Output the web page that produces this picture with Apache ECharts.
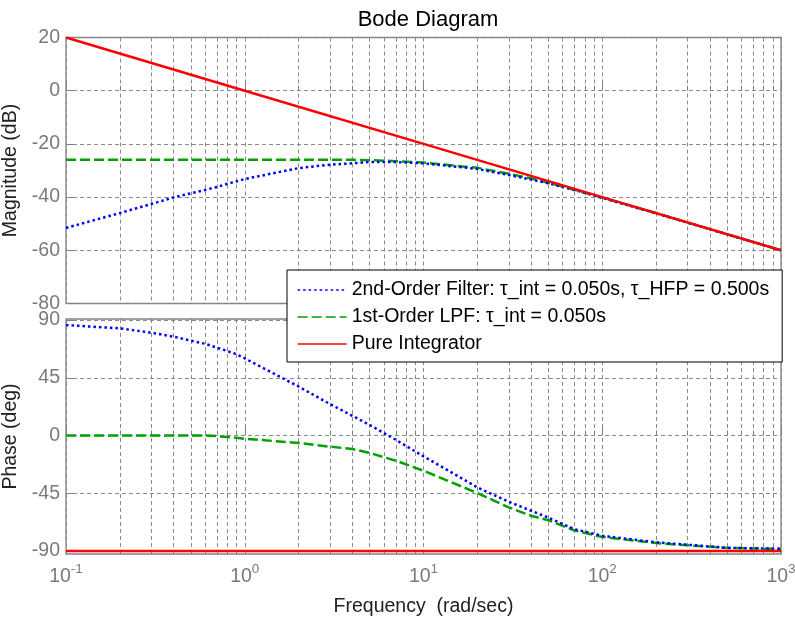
<!DOCTYPE html>
<html>
<head>
<meta charset="utf-8">
<title>Bode Diagram</title>
<script src="https://cdn.jsdelivr.net/npm/echarts@6/dist/echarts.min.js"></script>
<style>
  html, body { margin: 0; padding: 0; background: #fff; }
  #chart { width: 795px; height: 618px; }
</style>
</head>
<body>
<div id="chart"></div>
<script>
// frequency samples (rad/sec)
const freq = [0.1, 0.2, 0.3, 0.4, 0.5, 0.6, 0.7, 0.8, 0.9, 1, 2, 3, 4, 5, 7, 10, 20, 30, 40, 50, 70, 100, 200, 500, 1000]

// magnitude (dB)
const magFilter2 = [-51.6, -46.0, -42.6, -40.1, -38.6, -37.3, -36.2, -35.0, -34.1, -33.2, -29.1, -27.8, -27.3, -26.8, -26.8, -27.3, -29.4, -31.7, -33.4, -34.8, -37.3, -40.3, -46.1, -54.0, -60.0]
const magLpf1 = [-26.0, -26.0, -26.0, -26.0, -26.0, -26.0, -26.0, -26.0, -26.0, -26.0, -26.0, -26.0, -26.0, -26.1, -26.5, -27.0, -29.0, -31.2, -33.0, -34.6, -37.3, -40.2, -46.0, -54.0, -60.0]

// phase (deg)
const phaseFilter2 = [86.1, 83.5, 80.1, 77.0, 73.9, 71.5, 68.4, 65.8, 63.3, 60.1, 38.2, 24.5, 15.4, 8.2, -3.3, -16.2, -40.4, -51.6, -58.6, -64.0, -73.0, -78.1, -83.2, -87.5, -88.2]
const phaseLpf1 = [0, 0, 0, 0, 0, 0, -0.5, -1.2, -1.8, -2.5, -5.8, -8.7, -10.5, -13.6, -19.6, -27.4, -44.8, -56.0, -62.5, -66.0, -74.0, -79.0, -83.8, -87.6, -88.4]

// pure integrator
const freqInt = [0.1, 1, 10, 100, 1000]
const magInt = [20, 0, -20, -40, -60]
const phaseInt = [-90, -90, -90, -90, -90]

// tick labels
const freqTicks = [0.1, 1, 10, 100, 1000]
const magTicks = [-80, -60, -40, -20, 0, 20]
const phaseTicks = [-90, -45, 0, 45, 90]

const names = [
  '2nd-Order Filter: \u03c4_int = 0.050s, \u03c4_HFP = 0.500s',
  '1st-Order LPF: \u03c4_int = 0.050s',
  'Pure Integrator'
]

const zip = (xs, ys) => xs.map((x, i) => [x, ys[i]])

const font = 'Arial, "Liberation Sans", sans-serif'
const fs = 19.5
const labelColor = '#7a7a7a'
const gridLine = { show: true, lineStyle: { color: '#8a8a8a', type: [4, 3], width: 1 } }

const chart = echarts.init(document.getElementById('chart'))

const xAxisBase = (gridIndex, showLabels) => ({
  type: 'log',
  logBase: 10,
  gridIndex,
  min: 0.1,
  max: 1000,
  axisLine: { show: false },
  axisTick: { show: true, inside: true, length: 9, lineStyle: { color: '#808080' } },
  minorTick: { show: true, splitNumber: 9, length: 5, lineStyle: { color: '#808080' } },
  splitLine: gridLine,
  minorSplitLine: gridLine,
  axisLabel: {
    show: showLabels,
    customValues: freqTicks,
    margin: 8,
    color: labelColor,
    fontFamily: font,
    formatter: v => '{b|10}{s|' + Math.round(Math.log10(v)) + '}',
    rich: {
      b: { fontSize: fs, fontFamily: font, color: labelColor },
      s: { fontSize: 13.5, fontFamily: font, color: labelColor, padding: [0, 0, 15, 0] }
    }
  }
})

const yLabel = { margin: 6, fontSize: fs, color: labelColor, fontFamily: font }
const nameStyle = { fontSize: fs, color: '#222', fontFamily: font }

const option = {
  animation: false,
  backgroundColor: '#fff',
  title: {
    text: 'Bode Diagram',
    left: 423,
    textAlign: 'center',
    top: 4,
    textStyle: { fontSize: 22, fontWeight: 'normal', color: '#000', fontFamily: font }
  },
  legend: {
    data: names,
    orient: 'vertical',
    left: 287,
    top: 270,
    padding: [10, 13, 8, 10],
    itemWidth: 49,
    itemHeight: 14,
    itemGap: 7,
    backgroundColor: '#fff',
    borderColor: '#000',
    borderWidth: 1,
    borderRadius: 0,
    z: 10,
    itemStyle: { opacity: 0 },
    lineStyle: { width: 1.3 },
    textStyle: { fontSize: fs, lineHeight: 20, color: '#000', fontFamily: font }
  },
  grid: [
    { left: 66, top: 37.5, width: 715, height: 266, outerBoundsMode: 'none', containLabel: false, show: true, borderColor: '#808080', borderWidth: 1.3, backgroundColor: '#fff' },
    { left: 66, top: 319, width: 715, height: 235, outerBoundsMode: 'none', containLabel: false, show: true, borderColor: '#808080', borderWidth: 1.3, backgroundColor: '#fff' }
  ],
  xAxis: [
    xAxisBase(0, false),
    Object.assign(xAxisBase(1, true), {
      name: 'Frequency  (rad/sec)',
      nameLocation: 'middle',
      nameGap: 43,
      nameTextStyle: nameStyle
    })
  ],
  yAxis: [
    {
      type: 'value',
      gridIndex: 0,
      min: -80,
      max: 20,
      interval: 20,
      name: 'Magnitude (dB)',
      nameLocation: 'middle',
      nameGap: 42,
      nameTextStyle: nameStyle,
      axisLine: { show: false },
      axisTick: { show: true, inside: true, length: 9, lineStyle: { color: '#808080' } },
      splitLine: gridLine,
      axisLabel: Object.assign({ customValues: magTicks }, yLabel)
    },
    {
      type: 'value',
      gridIndex: 1,
      min: -92.3,
      max: 90.8,
      name: 'Phase (deg)',
      nameLocation: 'middle',
      nameGap: 42,
      nameTextStyle: nameStyle,
      axisLine: { show: false },
      axisTick: { show: true, inside: true, length: 9, customValues: phaseTicks, lineStyle: { color: '#808080' } },
      splitLine: gridLine,
      axisLabel: Object.assign({ customValues: phaseTicks }, yLabel)
    }
  ],
  series: [
    {
      name: names[1], type: 'line', xAxisIndex: 0, yAxisIndex: 0, z: 2,
      data: zip(freq, magLpf1), symbol: 'none',
      lineStyle: { color: '#00a000', width: 2.5, type: [10, 4] }, itemStyle: { color: '#00a000' }
    },
    {
      name: names[1], type: 'line', xAxisIndex: 1, yAxisIndex: 1, z: 2,
      data: zip(freq, phaseLpf1), symbol: 'none',
      lineStyle: { color: '#00a000', width: 2.5, type: [10, 4] }, itemStyle: { color: '#00a000' }
    },
    {
      name: names[0], type: 'line', xAxisIndex: 0, yAxisIndex: 0, z: 3,
      data: zip(freq, magFilter2), symbol: 'none',
      lineStyle: { color: '#0000ff', width: 2.5, type: [2.5, 3] }, itemStyle: { color: '#0000ff' }
    },
    {
      name: names[0], type: 'line', xAxisIndex: 1, yAxisIndex: 1, z: 3,
      data: zip(freq, phaseFilter2), symbol: 'none',
      lineStyle: { color: '#0000ff', width: 2.5, type: [2.5, 3] }, itemStyle: { color: '#0000ff' }
    },
    {
      name: names[2], type: 'line', xAxisIndex: 0, yAxisIndex: 0, z: 4,
      data: zip(freqInt, magInt), symbol: 'none',
      lineStyle: { color: '#ff0000', width: 2.5 }, itemStyle: { color: '#ff0000' }
    },
    {
      name: names[2], type: 'line', xAxisIndex: 1, yAxisIndex: 1, z: 4,
      data: zip(freqInt, phaseInt), symbol: 'none',
      lineStyle: { color: '#ff0000', width: 2.5 }, itemStyle: { color: '#ff0000' }
    }
  ]
}

chart.setOption(option)
</script>
</body>
</html>
